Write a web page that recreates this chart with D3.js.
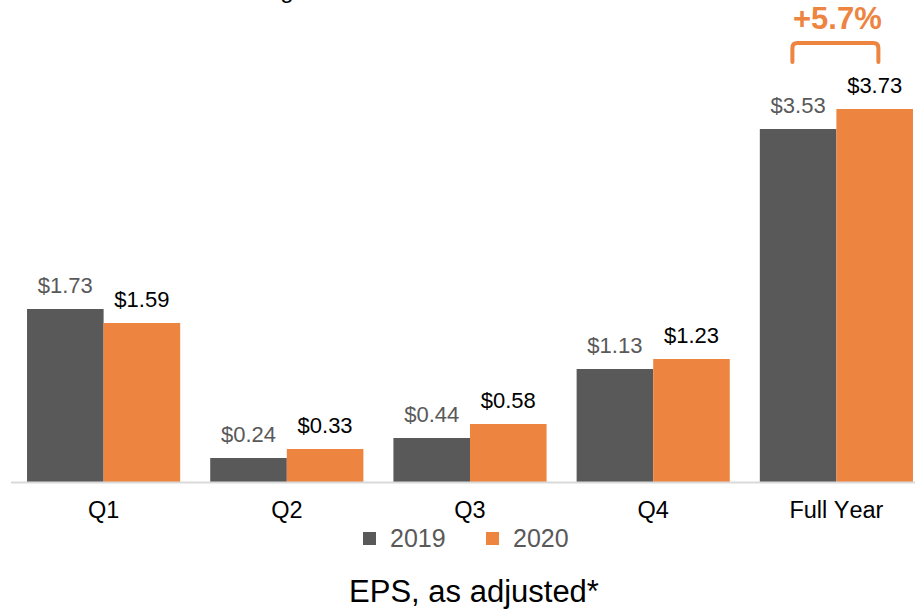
<!DOCTYPE html>
<html>
<head>
<meta charset="utf-8">
<script src="https://cdn.jsdelivr.net/npm/d3@7"></script>
<style>
  html, body { margin: 0; padding: 0; background: #fff; }
  svg { display: block; font-family: "Liberation Sans", Arial, sans-serif; font-kerning: none; }
</style>
</head>
<body>
<svg id="chart" width="915" height="609"></svg>
<script>
const categories = ["Q1", "Q2", "Q3", "Q4", "Full Year"];
const seriesNames = ["2019", "2020"];
const values2019 = [1.73, 0.24, 0.44, 1.13, 3.53];
const values2020 = [1.59, 0.33, 0.58, 1.23, 3.73];
const valueLabels2019 = ["$1.73", "$0.24", "$0.44", "$1.13", "$3.53"];
const valueLabels2020 = ["$1.59", "$0.33", "$0.58", "$1.23", "$3.73"];
const changeLabel = "+5.7%";
const chartTitle = "EPS, as adjusted*";

const colors = { "2019": "#595959", "2020": "#ED843F" };
const labelColors = { "2019": "#595959", "2020": "#000000" };

const svg = d3.select("#chart");
const baseY = 482;

const x = d3.scaleBand().domain(categories).range([12, 928]).paddingInner(0.164).paddingOuter(0.082);
const xs = d3.scaleBand().domain(seriesNames).range([0, x.bandwidth()]);
const y = d3.scaleLinear().domain([0, 3.73]).range([baseY, 109]);

const data = categories.map((c, i) => ({
  cat: c,
  vals: [
    { s: "2019", v: values2019[i], label: valueLabels2019[i] },
    { s: "2020", v: values2020[i], label: valueLabels2020[i] }
  ]
}));

// partially visible text cut off at top of the picture
svg.append("text").attr("x", 287).attr("y", -2).attr("text-anchor", "middle")
  .attr("font-size", 24).attr("fill", "#000").text("g");

const g = svg.selectAll("g.grp").data(data).join("g")
  .attr("class", "grp")
  .attr("transform", d => `translate(${x(d.cat)},0)`);

g.selectAll("rect").data(d => d.vals).join("rect")
  .attr("x", d => xs(d.s))
  .attr("width", xs.bandwidth())
  .attr("y", d => y(d.v))
  .attr("height", d => y(0) - y(d.v))
  .attr("fill", d => colors[d.s]);

g.selectAll("text.val").data(d => d.vals).join("text")
  .attr("class", "val")
  .attr("x", d => xs(d.s) + xs.bandwidth() / 2)
  .attr("y", d => y(d.v) - 16)
  .attr("text-anchor", "middle")
  .attr("font-size", 22)
  .attr("fill", d => labelColors[d.s])
  .text(d => d.label);

// axis baseline
svg.append("line").attr("x1", 11).attr("x2", 915).attr("y1", baseY + 0.5).attr("y2", baseY + 0.5)
  .attr("stroke", "#D9D9D9").attr("stroke-width", 2);

// category labels
const xAxis = d3.axisBottom(x).tickSize(0).tickPadding(0);
const ax = svg.append("g").attr("transform", `translate(0,${baseY})`).call(xAxis);
ax.select(".domain").remove();
ax.selectAll("text").attr("font-size", 23.5).attr("fill", "#000")
  .attr("font-family", "Liberation Sans, Arial, sans-serif")
  .attr("dy", null).attr("y", 36);

// change annotation over full year
const fyC = x("Full Year") + x.bandwidth() / 2;
svg.append("path")
  .attr("d", `M${fyC - 44},62 V48 Q${fyC - 44},43 ${fyC - 39},43 H${fyC + 37} Q${fyC + 42},43 ${fyC + 42},48 V62`)
  .attr("fill", "none").attr("stroke", colors["2020"]).attr("stroke-width", 4).attr("stroke-linecap", "round");
svg.append("text").attr("x", fyC + 1).attr("y", 29).attr("text-anchor", "middle")
  .attr("font-size", 31).attr("font-weight", "bold").attr("fill", colors["2020"]).text(changeLabel);

// legend
const legendPos = [{ s: "2019", x: 363 }, { s: "2020", x: 486 }];
const lg = svg.selectAll("g.leg").data(legendPos).join("g").attr("class", "leg");
lg.append("rect").attr("x", d => d.x).attr("y", 532).attr("width", 13).attr("height", 13)
  .attr("fill", d => colors[d.s]);
lg.append("text").attr("x", d => d.x + 27).attr("y", 547).attr("font-size", 25)
  .attr("fill", "#595959").text(d => d.s);

// bottom title
svg.append("text").attr("x", 474).attr("y", 602).attr("text-anchor", "middle")
  .attr("font-size", 31).attr("fill", "#000").text(chartTitle);
</script>
</body>
</html>
